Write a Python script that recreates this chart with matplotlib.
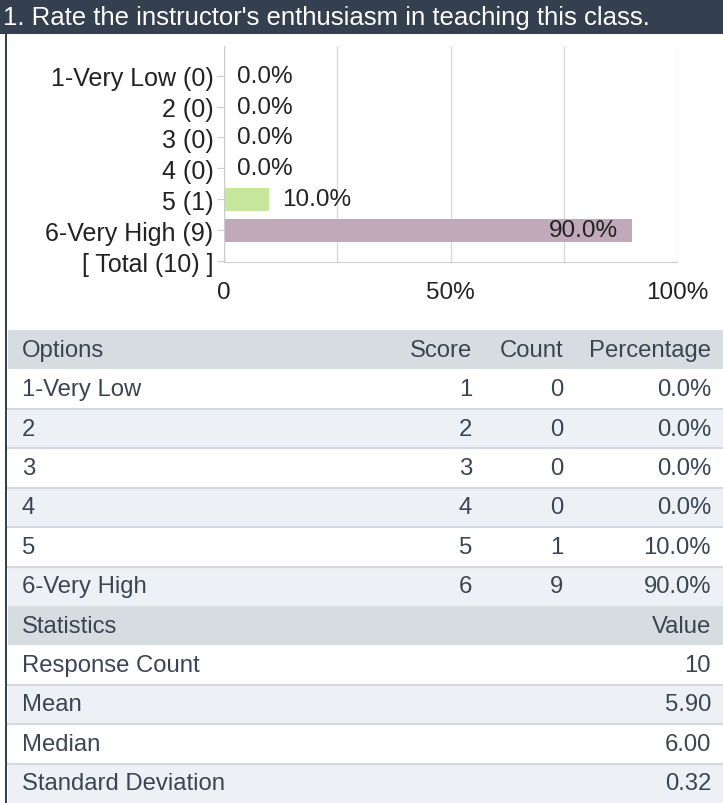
import numpy as np
import matplotlib
matplotlib.use("Agg")
import matplotlib.pyplot as plt
from matplotlib.patches import Rectangle

plt.rcParams['font.family'] = ['Liberation Sans', 'DejaVu Sans']

title = "1. Rate the instructor's enthusiasm in teaching this class."
options = ["1-Very Low", "2", "3", "4", "5", "6-Very High"]
scores = [1, 2, 3, 4, 5, 6]
counts = [0, 0, 0, 0, 1, 9]
total = 10
percents = [0.0, 0.0, 0.0, 0.0, 10.0, 90.0]
bar_colors = ["#c6e79b", "#c6e79b", "#c6e79b", "#c6e79b", "#c6e79b", "#c0aab9"]
stat_names = ["Response Count", "Mean", "Median", "Standard Deviation"]
stat_values = ["10", "5.90", "6.00", "0.32"]

W, H = 723, 804
dark = "#343f4f"
txt = "#3a4553"

fig = plt.figure(figsize=(W / 100, H / 100), dpi=100)

# background layer in pixel coordinates
bg = fig.add_axes([0, 0, 1, 1])
bg.set_xlim(0, W)
bg.set_ylim(H, 0)
bg.axis("off")

bg.add_patch(Rectangle((0, 0), W, 35, color=dark, lw=0))
bg.text(3, 18, title, color="white", fontsize=18.5, va="center", ha="left")
bg.add_patch(Rectangle((4.5, 35), 2.5, H - 35, color=dark, lw=0))

# table
top = 331
rh = (H - top) / 12
rows = [("Options", "Score", "Count", "Percentage", "head")]
for i in range(len(options)):
    rows.append((options[i], str(scores[i]), str(counts[i]), f"{percents[i]:.1f}%", i % 2))
rows.append(("Statistics", "", "", "Value", "head"))
for i in range(len(stat_names)):
    rows.append((stat_names[i], "", "", stat_values[i], i % 2))

fs = 17.2
for r, (c0, c1, c2, c3, kind) in enumerate(rows):
    y0 = top + r * rh
    if kind == "head":
        fc = "#d6dde1"
    elif kind == 1:
        fc = "#edf1f5"
    else:
        fc = "white"
    bg.add_patch(Rectangle((8, y0), W - 8, rh, color=fc, lw=0))
    if r > 0 and rows[r - 1][4] != "head" and kind != "head":
        bg.plot([8, W], [y0, y0], color="#d3d9de", lw=1.5)
    yc = y0 + rh / 2
    bg.text(22, yc, c0, color=txt, fontsize=fs, va="center", ha="left")
    bg.text(472, yc, c1, color=txt, fontsize=fs, va="center", ha="right")
    bg.text(563, yc, c2, color=txt, fontsize=fs, va="center", ha="right")
    bg.text(711, yc, c3, color=txt, fontsize=fs, va="center", ha="right")

# bar chart
x0, x1, yt, yb = 224, 677, 47, 263
ax = fig.add_axes([x0 / W, 1 - yb / H, (x1 - x0) / W, (yb - yt) / H])
labels = [f"{o} ({c})" for o, c in zip(options, counts)] + [f"[ Total ({total}) ]"]
ypos = np.arange(len(labels))
ax.barh(ypos[:-1], percents, height=0.74, color=bar_colors, lw=0, zorder=2)
for y, p in zip(ypos[:-1], percents):
    if p > 50:
        ax.annotate(f"{p:.1f}%", (p, y), xytext=(-14, 0), textcoords="offset pixels",
                    ha="right", va="center", fontsize=17.5, color="#222222", zorder=3)
    else:
        ax.annotate(f"{p:.1f}%", (p, y), xytext=(13, 0), textcoords="offset pixels",
                    ha="left", va="center", fontsize=17.5, color="#222222", zorder=3)
ax.set_xlim(0, 100)
ax.set_ylim(6.03, -0.96)
ax.set_yticks(ypos)
ax.set_yticklabels(labels, fontsize=18, color="#222222")
ax.set_xticks([0, 50, 100])
ax.set_xticklabels(["0", "50%", "100%"], fontsize=17.5, color="#222222")
ax.set_xticks([25, 75], minor=True)
ax.tick_params(axis="x", which="both", length=0, pad=14)
ax.tick_params(axis="y", length=5, color="#cccccc", pad=2.5)
ax.grid(axis="x", which="both", color="#d9d9d9", lw=1, zorder=0)
for s in ["top", "right"]:
    ax.spines[s].set_visible(False)
for s in ["left", "bottom"]:
    ax.spines[s].set_color("#cccccc")
ax.set_facecolor("none")

fig.savefig("out.png", dpi=100)
